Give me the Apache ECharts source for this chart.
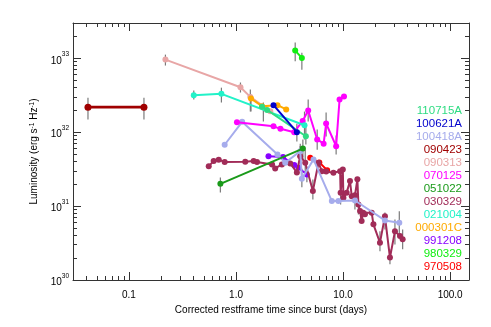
<!DOCTYPE html>
<html>
<head>
<meta charset="utf-8">
<script src="https://cdn.jsdelivr.net/npm/echarts@6/dist/echarts.min.js"></script>
<style>
  html, body { margin: 0; padding: 0; background: #fff; }
  #main { width: 491px; height: 327px; }
</style>
</head>
<body>
<div id="main"></div>
<script>
// axis ranges
var xMin = 0.03, xMax = 150;
var yMin = 1e30, yMax = 3e33;

// legend order (top to bottom) and colours
var names = ['110715A', '100621A', '100418A', '090423', '090313', '070125', '051022',
             '030329', '021004', '000301C', '991208', '980329', '970508'];
var colors = ['#2edc82', '#0000cc', '#a6acec', '#a00000', '#e8a6a6', '#ff00ff', '#1a9a1a',
              '#a12c58', '#22f2c8', '#ffaa00', '#8800ff', '#11ee11', '#ff0000'];

// [time (days), luminosity]
var grb110715A = [[1.75, 2.2e32], [1.95, 2.0e32], [4.49, 8.8e31]];
var grb100621A = [[2.24, 2.32e32], [3.70, 1.0e32]];
var grb100418A = [[0.783, 6.76e31], [1.14, 1.38e32], [2.44, 5.0e31], [2.88, 3.86e31], [3.98, 5.54e31],
                  [4.12, 2.35e31], [5.29, 4.28e31], [7.85, 1.17e31], [9.04, 1.17e31], [12.9, 1.19e31],
                  [24.6, 6.4e30], [33.5, 5.97e30]];
var grb090423 = [[0.0414, 2.18e32], [0.138, 2.18e32]];
var grb090313 = [[0.219, 9.6e32], [1.10, 4.06e32], [1.36, 3.0e32], [2.09, 1.92e32]];
var grb070125 = [[1.02, 1.36e32], [2.24, 1.2e32], [2.60, 1.11e32], [3.49, 1.0e32], [4.19, 1.42e32],
                 [4.72, 1.96e32], [5.73, 7.97e31], [6.58, 7.0e31], [6.94, 1.31e32], [8.61, 6.47e31],
                 [9.27, 2.77e32], [10.2, 3.04e32]];
var grb051022 = [[0.714, 2.0e31], [4.21, 6.0e31]];
var grb030329 = [[0.556, 3.47e31], [0.618, 4.06e31], [0.689, 4.24e31], [0.783, 3.96e31], [1.22, 3.98e31],
                 [1.46, 4.06e31], [1.57, 3.96e31], [2.17, 3.66e31], [2.32, 3.23e31], [2.68, 3.66e31],
                 [3.21, 3.78e31], [3.70, 2.85e31], [3.97, 4.74e31], [4.43, 3.86e31], [5.22, 1.6e31],
                 [5.89, 3.86e31], [6.33, 2.97e31], [6.95, 2.94e31], [8.12, 2.83e31], [9.38, 2.97e31],
                 [9.48, 1.52e31], [9.94, 3.13e31], [10.07, 1.3e31], [10.8, 1.52e31], [11.6, 2.18e31],
                 [12.05, 1.36e31], [12.9, 1.4e31], [13.6, 2.3e31], [13.9, 1.05e31], [14.4, 8.56e30],
                 [14.9, 6.27e30], [15.4, 8.15e30], [16.0, 7.73e30], [18.5, 8.15e30], [19.2, 5.66e30],
                 [22.1, 3.2e30], [24.6, 7.26e30], [27.4, 2.01e30], [30.5, 4.55e30], [34.0, 3.94e30],
                 [36.0, 3.55e30]];
var grb021004 = [[0.403, 3.16e32], [0.730, 3.3e32], [4.36, 1.24e32]];
var grb000301C = [[1.38, 2.85e32], [1.75, 2.25e32], [2.44, 2.32e32], [2.94, 2.03e32]];
var grb991208 = [[2.01, 4.74e31], [2.75, 4.6e31], [3.5, 3.6e31], [3.83, 3.3e31], [4.59, 2.68e31]];
var grb980329 = [[3.57, 1.27e33], [4.12, 1.01e33]];
var grb970508 = [[4.93, 4.5e31], [6.0, 3.9e31], [7.1, 3.05e31]];

// error bars: [time, low, high]
var errBars = [
  [0.0414, 1.48e32, 2.92e32], [0.138, 1.48e32, 2.92e32],
  [0.219, 7.97e32, 1.12e33], [1.10, 3.44e32, 4.7e32], [1.36, 1.9e32, 3.78e32],
  [0.403, 2.77e32, 3.66e32], [0.730, 2.52e32, 4.0e32],
  [3.57, 9.1e32, 1.64e33], [4.12, 7.0e32, 1.19e33],
  [1.38, 1.9e32, 3.23e32], [1.8, 1.4e32, 2.52e32],
  [4.36, 7.96e31, 1.9e32], [4.49, 6.8e31, 1.27e32], [3.70, 7.5e31, 1.3e32],
  [4.72, 1.39e32, 2.77e32], [5.73, 5.8e31, 1.09e32], [6.94, 8.75e31, 1.85e32], [8.61, 5.0e31, 9.0e31],
  [0.714, 1.53e31, 2.44e31], [4.21, 4.28e31, 7.96e31],
  [12.9, 9.0e30, 1.49e31], [24.6, 4.84e30, 8.2e30], [33.5, 4.15e30, 8.5e30],
  [5.22, 1.23e31, 2.29e31], [22.1, 2.44e30, 4.55e30], [30.5, 3.03e30, 6.6e30],
  [36.0, 2.6e30, 4.84e30], [27.4, 1.63e30, 2.6e30], [13.9, 7.7e30, 1.44e31],
  [9.48, 1.05e31, 2.29e31], [4.43, 2.68e31, 5.83e31], [3.97, 3.2e31, 6.5e31],
  [4.12, 1.8e31, 3.2e31], [4.59, 2.1e31, 3.4e31], [3.98, 4.2e31, 7.0e31]
];

var seriesData = {
  '110715A': grb110715A, '100621A': grb100621A, '100418A': grb100418A, '090423': grb090423,
  '090313': grb090313, '070125': grb070125, '051022': grb051022, '030329': grb030329,
  '021004': grb021004, '000301C': grb000301C, '991208': grb991208, '980329': grb980329,
  '970508': grb970508
};
// drawing order (first = bottom)
var drawOrder = ['970508', '991208', '030329', '100418A', '051022', '070125', '021004',
                 '090313', '000301C', '110715A', '100621A', '980329', '090423'];

function minorTicks(lo, hi) {
  var out = [];
  for (var n = Math.floor(Math.log10(lo)); n <= Math.ceil(Math.log10(hi)); n++) {
    for (var k = 2; k <= 9; k++) out.push(Math.log10(k) + n);
  }
  return out;
}

var chart = echarts.init(document.getElementById('main'));
var font = 'Liberation Sans, Arial, Helvetica, sans-serif';
var axisCol = '#333';

function isPow10(v) {
  var l = Math.log10(v);
  return Math.abs(l - Math.round(l)) < 1e-6;
}

function logAxis(pos, min, max, labels, formatter) {
  return {
    type: 'log', logBase: 10, position: pos, min: min, max: max,
    axisLine: { show: true, onZero: false, lineStyle: { color: axisCol, width: 1 } },
    axisTick: { show: true, inside: true, length: 8, lineStyle: { color: axisCol } },
    axisLabel: { show: labels, formatter: formatter, color: '#000', fontFamily: font, fontSize: 10,
      rich: {
        b: { fontSize: 10, fontFamily: font, color: '#000', verticalAlign: 'bottom', lineHeight: 15 },
        sup: { fontSize: 6.5, fontFamily: font, color: '#000', verticalAlign: 'top', lineHeight: 15 }
      } },
    splitLine: { show: false },
    minorTick: { show: false }
  };
}
function minorAxis(pos, min, max) {
  return {
    type: 'value', position: pos, min: Math.log10(min), max: Math.log10(max),
    axisLine: { show: false, onZero: false },
    axisLabel: { show: false },
    splitLine: { show: false },
    axisTick: { show: true, inside: true, length: 4, lineStyle: { color: axisCol },
      customValues: minorTicks(min, max) }
  };
}

var xLab = function (v) {
  if (!isPow10(v)) return '';
  return v < 1 ? String(v) : v.toFixed(1);
};
var yLab = function (v) {
  if (!isPow10(v)) return '';
  return '{b|10}{sup|' + Math.round(Math.log10(v)) + '}';
};

var xAxes = [
  Object.assign(logAxis('bottom', xMin, xMax, true, xLab), {
    name: 'Corrected restframe time since burst (days)', nameLocation: 'middle', nameGap: 24,
    nameTextStyle: { fontFamily: font, fontSize: 10, color: '#000' }
  }),
  logAxis('top', xMin, xMax, false),
  minorAxis('bottom', xMin, xMax),
  minorAxis('top', xMin, xMax)
];
xAxes[0].axisLabel.margin = 10;
var yAxes = [
  Object.assign(logAxis('left', yMin, yMax, true, yLab), {
    name: 'Luminosity (erg s{sup|-1} Hz{sup|-1})', nameLocation: 'middle', nameGap: 29,
    nameTextStyle: { fontFamily: font, fontSize: 10, color: '#000',
      rich: { sup: { fontSize: 6.5, fontFamily: font, color: '#000', verticalAlign: 'top', lineHeight: 12 } } }
  }),
  logAxis('right', yMin, yMax, false),
  minorAxis('left', yMin, yMax),
  minorAxis('right', yMin, yMax)
];
yAxes[0].axisLabel.margin = 4;

var series = [{
  type: 'custom', name: 'errors', xAxisIndex: 0, yAxisIndex: 0, z: 1, silent: true,
  data: errBars,
  renderItem: function (params, api) {
    var p1 = api.coord([api.value(0), api.value(1)]);
    var p2 = api.coord([api.value(0), api.value(2)]);
    return { type: 'line', shape: { x1: p1[0], y1: p1[1], x2: p2[0], y2: p2[1] },
             style: { stroke: '#7a7a7a', lineWidth: 1.2 } };
  }
}];
drawOrder.forEach(function (nm, i) {
  var c = colors[names.indexOf(nm)];
  var thick = nm === '090423';
  series.push({
    type: 'line', name: nm, xAxisIndex: 0, yAxisIndex: 0, z: 2 + i,
    data: seriesData[nm],
    symbol: 'circle', symbolSize: thick ? 7 : 6,
    lineStyle: { color: c, width: thick ? 2.6 : 2 },
    itemStyle: { color: c },
    emphasis: { disabled: true },
    animation: false
  });
});

chart.setOption({
  animation: false,
  grid: { left: 73, right: 22, top: 23, bottom: 47, containLabel: false },
  xAxis: xAxes,
  yAxis: yAxes,
  legend: {
    data: names.map(function (n, i) {
      return { name: n, icon: 'none', textStyle: { color: colors[i] } };
    }),
    orient: 'vertical', right: 24, top: 104, padding: 0,
    align: 'right', itemWidth: 0, itemHeight: 13, itemGap: 0.06,
    selectedMode: false,
    textStyle: { fontFamily: font, fontSize: 11.5, lineHeight: 13 }
  },
  series: series
});
</script>
</body>
</html>
